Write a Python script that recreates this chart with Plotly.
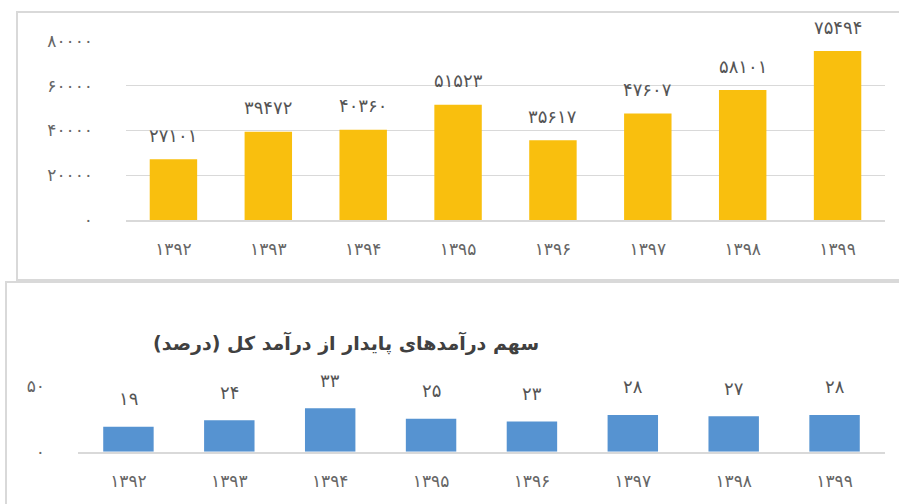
import plotly.graph_objects as go

years = ["۱۳۹۲", "۱۳۹۳", "۱۳۹۴", "۱۳۹۵", "۱۳۹۶", "۱۳۹۷", "۱۳۹۸", "۱۳۹۹"]
income = [27101, 39472, 40360, 51523, 35617, 47607, 58101, 75494]
share = [19, 24, 33, 25, 23, 28, 27, 28]
top_ticks = [0, 20000, 40000, 60000, 80000]
bottom_ticks = [0, 50]
title_text = "سهم درآمدهای پایدار از درآمد کل (درصد)"

FA = str.maketrans("0123456789", "۰۱۲۳۴۵۶۷۸۹")


def fa(v):
    return str(v).translate(FA)


W, H = 899, 504
FONT = "DejaVu Sans"
TXT = "#555555"
GRID = "#D9D9D9"


def px_x(p):
    return p / W


def px_y(p):
    return 1 - p / H


fig = go.Figure()
fig.add_trace(go.Bar(x=years, y=income, marker=dict(color="#F9BF0E", line=dict(width=0)),
                     xaxis="x", yaxis="y", showlegend=False, hoverinfo="skip"))
fig.add_trace(go.Bar(x=years, y=share, marker=dict(color="#5693D1", line=dict(width=0)),
                     xaxis="x2", yaxis="y2", showlegend=False, hoverinfo="skip"))

annotations = []
for yr, v in zip(years, income):
    annotations.append(dict(x=yr, y=v, xref="x", yref="y", text=fa(v), showarrow=False,
                            yanchor="middle", yshift=24, font=dict(family=FONT, size=18, color=TXT)))
for yr, v in zip(years, share):
    annotations.append(dict(x=yr, y=v, xref="x2", yref="y2", text=fa(v), showarrow=False,
                            yanchor="middle", yshift=28, font=dict(family=FONT, size=18, color=TXT)))
annotations.append(dict(x=px_x(346), y=px_y(343), xref="paper", yref="paper", text="<b>" + title_text + "</b>",
                        showarrow=False, xanchor="center", yanchor="middle",
                        font=dict(family=FONT, size=19, color="#404040")))

shapes = [
    dict(type="rect", xref="paper", yref="paper", x0=px_x(17), x1=px_x(905), y0=px_y(280), y1=px_y(12),
         line=dict(color=GRID, width=2), layer="below"),
    dict(type="rect", xref="paper", yref="paper", x0=px_x(6), x1=px_x(905), y0=px_y(520), y1=px_y(282),
         line=dict(color=GRID, width=2), layer="below"),
]

axis_font = dict(family=FONT, size=17, color="#666666")

fig.update_layout(
    template="none",
    width=W, height=H, autosize=False,
    margin=dict(l=0, r=0, t=0, b=0, pad=0),
    paper_bgcolor="white", plot_bgcolor="white",
    bargap=0.5,
    annotations=annotations, shapes=shapes,
    xaxis=dict(domain=[px_x(126), px_x(885)], anchor="y", showgrid=False, showline=True, automargin=False,
               linecolor=GRID, linewidth=2, ticks="", tickfont=axis_font, ticklabelstandoff=13),
    yaxis=dict(domain=[px_y(220), px_y(41)], anchor="x", range=[0, 80000], tickvals=top_ticks, automargin=False,
               ticktext=[fa(t) for t in top_ticks], showgrid=True, gridcolor=GRID, gridwidth=1,
               zeroline=False, showline=False, ticks="", tickfont=axis_font, ticklabelstandoff=32),
    xaxis2=dict(domain=[px_x(78), px_x(885)], anchor="y2", showgrid=False, showline=True, automargin=False,
                linecolor=GRID, linewidth=2, ticks="", tickfont=axis_font, ticklabelstandoff=13),
    yaxis2=dict(domain=[px_y(451.7), px_y(386)], anchor="x2", range=[0, 50], tickvals=bottom_ticks, automargin=False,
                ticktext=[fa(t) for t in bottom_ticks], showgrid=True, gridcolor=GRID, gridwidth=1,
                zeroline=False, showline=False, ticks="", tickfont=axis_font, ticklabelstandoff=32),
)

fig.write_html("out.html", config={"displayModeBar": False},
               post_script="document.body.style.margin='0';document.body.style.overflow='hidden';")
